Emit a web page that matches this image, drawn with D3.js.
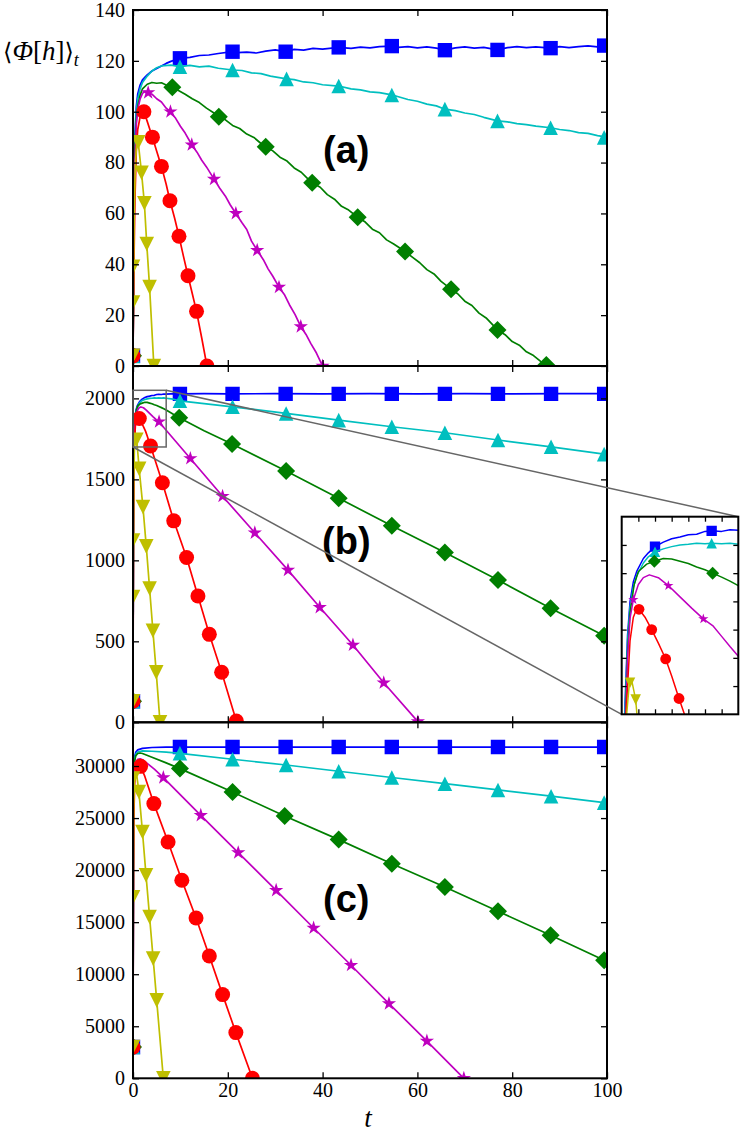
<!DOCTYPE html>
<html><head><meta charset="utf-8">
<script src="https://cdn.jsdelivr.net/npm/d3@7"></script>
<style>body{margin:0;background:#fff}svg{display:block}</style>
</head><body>
<svg id="chart" width="743" height="1132"></svg>
<script>
// ---------------- DATA ----------------
const tDomain = [0, 100];
const tTicks = [0, 20, 40, 60, 80, 100];
const aDomain = [0, 140];
const aTicks = [0, 20, 40, 60, 80, 100, 120, 140];
const bDomain = [0, 2200];
const bTicks = [0, 500, 1000, 1500, 2000];
const cDomain = [0, 34200];
const cTicks = [0, 5000, 10000, 15000, 20000, 25000, 30000];
const insetTDomain = [0, 7];
const insetTTicks = [1, 2, 3, 4, 5, 6];
const insetVDomain = [1700, 2050];
const insetVTicks = [1750, 1800, 1850, 1900, 1950, 2000];
const panelLabels = ["(a)", "(b)", "(c)"];

// panel (a)
const aBlueLine = [[0,4],[0.2,60],[0.4,90],[0.7,102],[1,107],[1.5,110.5],[2,112.5],[3,114.5],[4,116],[5,117],[6,118],[7,119],[8,119.8],[9.9,121],[12,121.4],[14,122.1],[16,122.3],[18,122.9],[21,123.6],[22,123.2],[24,123.4],[26,123.1],[28,123.8],[30,124.3],[32.2,123.6],[34,124.5],[36,124.2],[38,124.9],[40,124.6],[43.4,125.3],[46,124.9],[48,125.4],[50,125.1],[52,125.6],[54.6,125.8],[56,125.3],[58,125.6],[60,125.1],[62,125.5],[64,125.0],[65.8,124.2],[68,125.1],[70,125.5],[72,125.0],[74,125.3],[76.9,124.3],[79,125.2],[81,125.6],[83,125.2],[85,125.5],[88.1,125.0],[90,125.6],[92,125.2],[94,125.6],[96,125.9],[98,125.5],[100,126]];
const aBlueMarks = [[0,4],[9.9,121],[21,123.6],[32.2,123.6],[43.4,125.3],[54.6,125.8],[65.8,124.2],[76.9,124.3],[88.1,125],[99.4,126]];
const aCyanLine = [[0,4],[0.2,58],[0.4,88],[0.7,100],[1,105],[1.5,109],[2,111.5],[3,114],[4,116],[5,117.3],[6,118],[8,118.3],[9.9,117.7],[12,118.2],[14,117.6],[16,117.9],[18,117.1],[21,116.4],[23,116.2],[25,115.3],[27,115.0],[29,114.0],[32.4,112.9],[34,112.6],[36,111.7],[38,111.4],[40,110.6],[43.4,110.1],[46,109.0],[48,108.6],[50,107.8],[52,107.5],[54.6,106.6],[56,105.9],[58,104.8],[60,104.1],[62,103.0],[64,102.3],[65.8,101],[68,100.4],[70,99.5],[72,98.9],[74,97.8],[76.9,96.4],[79,96.0],[81,95.3],[83,94.9],[85,94.3],[88.1,93.7],[90,93.0],[92,92.6],[94,91.8],[96,91.5],[98,90.6],[100,90]];
const aCyanMarks = [[0,4],[9.9,117.7],[21,116.4],[32.4,112.9],[43.4,110.1],[54.6,106.6],[65.8,101],[76.9,96.4],[88.1,93.7],[99.4,89.9]];
const aGreenLine = [[0,4],[0.2,55],[0.4,85],[0.7,97],[1,102],[1.5,106.5],[2,109],[3,110.8],[4,111.5],[5,111.2],[6,111.4],[7,110.5],[8.3,109.6],[9.5,108.4],[11,106.9],[12.5,105.1],[14,103.6],[15.5,101.4],[17,99.6],[18.1,98],[19.5,96.8],[21,94.6],[22.5,93.4],[24,91.2],[25.5,89.9],[27,87.5],[28,86.2],[29.5,84.6],[31,82.1],[32.5,80.6],[34,77.9],[35.5,76.2],[37,73.4],[37.8,72.1],[39.5,70.3],[41,67.4],[42.5,65.6],[44,62.8],[45.5,61.3],[47.4,58.5],[49,56.6],[50.5,53.8],[52,52.4],[53.5,49.6],[55,48.0],[57.4,45],[59,42.7],[60.5,40.6],[62,37.9],[63.5,36.2],[65,33.3],[67.1,30.2],[68.5,28.4],[70,25.5],[71.5,23.8],[73,20.8],[74.5,18.9],[76.9,14.2],[78.5,12.3],[80,9.6],[81.5,8.2],[83,5.6],[84.5,4.1],[86,1.8],[87.3,0]];
const aGreenMarks = [[0,4],[8.3,109.6],[18.1,98],[28,86.2],[37.8,72.1],[47.4,58.5],[57.4,45],[67.1,30.2],[76.9,14.2],[87.2,0.4]];
const aMagentaLine = [[0,4],[0.2,50],[0.4,80],[0.7,95],[1,101],[1.5,105],[2,107.2],[2.5,108],[3.2,107.5],[4,106.9],[5,105.1],[6,103.8],[7,101.4],[7.9,100],[9,97.4],[10,94.3],[11,91.6],[12.4,87],[13.5,84.1],[14.5,80.9],[15.5,78.3],[17.1,73.5],[18.3,69.9],[19.5,66.8],[20.5,63.4],[21.7,60],[23,56.3],[24,53.7],[25,49.1],[26.2,45.5],[27.5,41.8],[28.5,38.2],[29.5,35.3],[30.8,31],[32,27.9],[33,24.1],[34.2,20.2],[35.4,15.5],[36.5,12.4],[37.5,8.9],[38.7,5.1],[40,0]];
const aMagentaMarks = [[0,4],[3.2,107.5],[7.9,100],[12.4,87],[17.1,73.5],[21.7,60],[26.2,45.5],[30.8,31],[35.4,15.5],[40,0]];
const aRedLine = [[0,4],[0.2,40],[0.4,65],[0.7,85],[1,93],[1.5,98],[2,99.8],[2.3,100],[3,96.2],[4.1,90],[5,84.5],[6,78.5],[7,71.5],[7.8,65],[8.8,58],[9.7,51],[10.6,43.5],[11.6,35.5],[12.5,28.5],[13.4,21.5],[14.5,11],[15.6,0]];
const aRedMarks = [[0,4],[2.3,100],[4.1,90],[6,78.5],[7.8,65],[9.7,51],[11.6,35.5],[13.4,21.5],[15.6,0]];
const aYellowLine = [[0,4],[0.1,30],[0.25,60],[0.5,80],[0.8,87.5],[1.1,88],[1.8,76],[2.4,64],[2.9,48],[3.5,31],[4.4,0]];
const aYellowMarks = [[0,4],[0,25],[0,39],[1.1,88],[1.8,76],[2.4,64],[2.9,48],[3.5,31],[4.4,0]];

// panel (b)
const bBlueLine = [[0,130],[0.1,1500],[0.2,1720],[0.35,1840],[0.5,1900],[0.7,1935],[0.9,1953],[1.3,1976],[1.6,1986],[2,1997],[2.5,2005],[3,2011],[3.5,2014],[4,2018],[4.5,2019],[5,2024],[5.4,2025],[6,2024],[6.5,2027],[7,2026],[8,2028],[10,2028],[15,2029],[20,2028],[30,2029],[40,2028],[50,2029],[60,2028],[70,2029],[80,2028],[90,2029],[100,2029]];
const bBlueMarks = [[0,130],[9.9,2028],[21,2028],[32.2,2028],[43.4,2028],[54.6,2028],[65.8,2028],[77,2028],[88.2,2028],[99.4,2028]];
const bCyanLine = [[0,130],[0.1,1480],[0.2,1700],[0.35,1830],[0.5,1890],[0.7,1925],[0.9,1945],[1.3,1968],[1.6,1979],[2,1988],[2.5,1993],[3,1997],[3.5,2000],[4,2001],[4.5,2003],[5,2002],[5.4,2003],[6,2002],[6.5,2003],[7,2001],[8.5,1995],[9.9,1985],[15,1968],[21,1948],[32.3,1907],[43.4,1866],[54.6,1825],[65.8,1788],[77,1743],[88.2,1701],[99.4,1656],[100,1654]];
const bCyanMarks = [[0,130],[9.9,1985],[21,1948],[32.3,1907],[43.4,1866],[54.6,1825],[65.8,1788],[77,1743],[88.2,1701],[99.4,1656]];
const bGreenLine = [[0,130],[0.1,1450],[0.2,1670],[0.35,1810],[0.5,1880],[0.75,1930],[1,1953],[1.5,1966],[1.96,1971],[2.5,1976],[3,1975],[3.5,1971],[4,1967],[4.5,1961],[5,1956],[5.46,1950],[6,1943],[6.5,1936],[7,1928],[8.5,1902],[9.75,1880],[15,1800],[20.9,1719],[32.3,1551],[43.4,1383],[54.6,1214],[65.8,1049],[77,878],[88.1,704],[99.4,535],[100,526]];
const bGreenMarks = [[0,130],[9.75,1880],[20.9,1719],[32.3,1551],[43.4,1383],[54.6,1214],[65.8,1049],[77,878],[88.1,704],[99.4,535]];
const bMagentaLine = [[0,130],[0.1,1400],[0.2,1640],[0.35,1800],[0.5,1870],[0.7,1903],[1,1930],[1.3,1942],[1.66,1947],[2.2,1942],[2.8,1928],[3.5,1908],[4.2,1888],[4.9,1869],[5.5,1856],[6,1838],[6.5,1820],[7,1803],[12.1,1629],[18.9,1396],[25.7,1170],[32.7,940],[39.4,710],[46.4,477],[52.9,244],[60.1,4],[60.2,0]];
const bMagentaMarks = [[0,130],[5.5,1856],[12.1,1629],[18.9,1396],[25.7,1170],[32.7,940],[39.4,710],[46.4,477],[52.9,244],[60.1,4]];
const bRedLine = [[0,130],[0.1,1200],[0.26,1700],[0.5,1830],[0.7,1872],[0.9,1887],[1.04,1886],[1.4,1872],[1.8,1850],[2.2,1826],[2.64,1798],[3,1768],[3.44,1728],[3.7,1706],[6.2,1479],[8.6,1244],[11.3,1018],[13.7,780],[16.1,543],[18.7,309],[21.8,8],[21.9,0]];
const bRedMarks = [[0,130],[1.33,1876],[3.7,1706],[6.2,1479],[8.6,1244],[11.3,1018],[13.7,780],[16.1,543],[18.7,309],[21.8,8]];
const bYellowLine = [[0,130],[0.05,900],[0.15,1450],[0.3,1700],[0.45,1752],[0.6,1760],[0.84,1726],[1.3,1565],[2.1,1329],[2.8,1086],[3.5,826],[4.2,565],[4.9,308],[5.7,0]];
const bYellowMarks = [[0,130],[0,774],[0,1123],[0.7,1745],[1.3,1565],[2.1,1329],[2.8,1086],[3.5,826],[4.2,565],[4.9,308],[5.7,0]];

// panel (c)
const cBlueLine = [[0,3000],[0.1,25000],[0.2,29500],[0.35,30900],[0.6,31350],[1,31550],[2,31700],[4,31780],[7,31810],[10,31820],[100,31820]];
const cBlueMarks = [[0,3000],[9.9,31820],[21,31820],[32.2,31820],[43.4,31820],[54.6,31820],[65.8,31820],[77,31820],[88.2,31820],[99.4,31820]];
const cCyanLine = [[0,3000],[0.1,24800],[0.2,29300],[0.35,30700],[0.6,31150],[1,31350],[2,31450],[4,31420],[7,31330],[9.9,31220],[21,30650],[32.3,30100],[43.4,29500],[54.6,28900],[65.8,28300],[77,27700],[88.2,27100],[99.4,26480],[100,26450]];
const cCyanMarks = [[0,3000],[9.9,31220],[21,30650],[32.3,30100],[43.4,29500],[54.6,28900],[65.8,28300],[77,27700],[88.2,27100],[99.4,26480]];
const cGreenLine = [[0,3000],[0.1,24500],[0.2,29000],[0.35,30500],[0.6,31000],[1,31200],[1.5,31250],[2,31200],[4,30850],[7,30300],[9.9,29750],[21,27500],[32,25200],[43.4,22930],[54.6,20620],[65.8,18380],[77,16040],[88.1,13740],[99.4,11340],[100,11210]];
const cGreenMarks = [[0,3000],[9.9,29750],[21,27500],[32,25200],[43.4,22930],[54.6,20620],[65.8,18380],[77,16040],[88.1,13740],[99.4,11340]];
const cMagentaLine = [[0,3000],[0.1,23000],[0.2,28000],[0.35,29900],[0.6,30400],[1,30650],[1.5,30700],[2,30600],[3,30250],[4.5,29700],[6.4,28890],[14.3,25260],[22.2,21680],[30.2,18060],[38.1,14440],[46,10860],[54,7180],[62,3580],[69.8,0]];
const cMagentaMarks = [[0,3000],[6.4,28890],[14.3,25260],[22.2,21680],[30.2,18060],[38.1,14440],[46,10860],[54,7180],[62,3580],[69.8,0]];
const cRedLine = [[0,3000],[0.1,20000],[0.2,25500],[0.35,28300],[0.6,29500],[1,29950],[1.6,29970],[2.5,29000],[4.4,26390],[7.4,22700],[10.3,19020],[13.3,15400],[16.1,11750],[18.9,8040],[21.7,4390],[25.2,0]];
const cRedMarks = [[0,3000],[1.6,29970],[4.4,26390],[7.4,22700],[10.3,19020],[13.3,15400],[16.1,11750],[18.9,8040],[21.7,4390],[25.2,0]];
const cYellowLine = [[0,3000],[0.05,17400],[0.15,26000],[0.3,28800],[0.55,29400],[0.85,28900],[1.25,27500],[2,23660],[2.75,19500],[3.5,15500],[4.25,11500],[5,7490],[6.4,0]];
const cYellowMarks = [[0,3000],[0,17400],[0,28800],[1.25,27500],[2,23660],[2.75,19500],[3.5,15500],[4.25,11500],[5,7490],[6.4,0]];

// inset (zoom of panel b)
const iBlueMarks = [[2,1997],[5.4,2025]];
const iCyanMarks = [[2,1988],[5.4,2003]];
const iGreenMarks = [[1.96,1971],[5.46,1950]];
const iMagentaMarks = [[0.7,1903],[2.8,1928],[4.9,1869]];
const iRedMarks = [[1.04,1886],[1.8,1850],[2.64,1798],[3.44,1728]];
const iYellowMarks = [[0.5,1756],[0.84,1726]];

// ---------------- STYLE / LAYOUT ----------------
const styles = [
  {color:"#0000ff", shape:"square"},
  {color:"#00bfbf", shape:"triUp"},
  {color:"#007f00", shape:"diamond"},
  {color:"#bf00bf", shape:"star"},
  {color:"#ff0000", shape:"circle"},
  {color:"#bfbf00", shape:"triDown"}
];
const SERIF = "Liberation Serif";
const svg = d3.select("#chart");
const X0 = 133, X1 = 607;
const x = d3.scaleLinear().domain(tDomain).range([X0, X1]);

function markerPath(shape, k) {
  if (shape === "square") { const s = 7.2*k; return `M${-s},${-s}H${s}V${s}H${-s}Z`; }
  if (shape === "triUp") { const s = 7.3*k; return `M0,${-s}L${s},${s}L${-s},${s}Z`; }
  if (shape === "triDown") { const s = 7.3*k; return `M0,${s}L${s},${-s}L${-s},${-s}Z`; }
  if (shape === "diamond") { const s = 9*k; return `M0,${-s}L${s},0L0,${s}L${-s},0Z`; }
  if (shape === "circle") { const r = 7.5*k; return `M${r},0A${r},${r} 0 1 1 ${-r},0A${r},${r} 0 1 1 ${r},0Z`; }
  if (shape === "star") {
    const R = 7.5*k, r = R*0.382; let p = "";
    for (let i = 0; i < 10; i++) {
      const a = -Math.PI/2 + i*Math.PI/5, rr = i%2 ? r : R;
      p += (i ? "L" : "M") + (rr*Math.cos(a)).toFixed(2) + "," + (rr*Math.sin(a)).toFixed(2);
    }
    return p + "Z";
  }
}

const panels = [
  {top:10, bottom:366, domain:aDomain, ticks:aTicks, label:panelLabels[0], labelAt:[45,80],
   lines:[aBlueLine,aCyanLine,aGreenLine,aMagentaLine,aRedLine,aYellowLine],
   marks:[aBlueMarks,aCyanMarks,aGreenMarks,aMagentaMarks,aRedMarks,aYellowMarks]},
  {top:366, bottom:722.3, domain:bDomain, ticks:bTicks, label:panelLabels[1], labelAt:[45,1040],
   lines:[bBlueLine,bCyanLine,bGreenLine,bMagentaLine,bRedLine,bYellowLine],
   marks:[bBlueMarks,bCyanMarks,bGreenMarks,bMagentaMarks,bRedMarks,bYellowMarks]},
  {top:722.3, bottom:1078.3, domain:cDomain, ticks:cTicks, label:panelLabels[2], labelAt:[45,16000],
   lines:[cBlueLine,cCyanLine,cGreenLine,cMagentaLine,cRedLine,cYellowLine],
   marks:[cBlueMarks,cCyanMarks,cGreenMarks,cMagentaMarks,cRedMarks,cYellowMarks], xLabels:true}
];

const defs = svg.append("defs");

function drawSeries(g, xs, ys, lines, marks, k, lw) {
  lines.forEach((ln, i) => {
    const st = styles[i];
    g.append("path").datum(ln)
      .attr("d", d3.line().x(d => xs(d[0])).y(d => ys(d[1])))
      .attr("fill", "none").attr("stroke", st.color).attr("stroke-width", lw)
      .attr("stroke-linejoin", "round");
    g.selectAll(null).data(marks[i]).join("path")
      .attr("d", markerPath(st.shape, k))
      .attr("transform", d => `translate(${xs(d[0])},${ys(d[1])})`)
      .attr("fill", st.color);
  });
}

function styleAxis(sel) {
  sel.attr("font-family", null).attr("font-size", null);
  sel.select(".domain").remove();
  sel.selectAll(".tick line").attr("stroke", "#000").attr("stroke-width", 1.3);
  sel.selectAll(".tick text").style("font-family", SERIF).style("font-size", "20px").attr("fill", "#000");
}

let bY = null;
panels.forEach((p, pi) => {
  const y = d3.scaleLinear().domain(p.domain).range([p.bottom, p.top]);
  if (pi === 1) bY = y;
  const cid = "clip" + pi;
  defs.append("clipPath").attr("id", cid).append("rect")
    .attr("x", X0).attr("y", p.top).attr("width", X1 - X0).attr("height", p.bottom - p.top);
  const g = svg.append("g").attr("clip-path", `url(#${cid})`);
  drawSeries(g, x, y, p.lines, p.marks, 1, 1.7);

  svg.append("text").attr("x", x(p.labelAt[0])).attr("y", y(p.labelAt[1]))
    .attr("text-anchor", "middle").style("font-family", "Liberation Sans")
    .style("font-weight", "bold").style("font-size", "38px").text(p.label);

  svg.append("g").attr("transform", `translate(${X0},0)`)
    .call(d3.axisLeft(y).tickValues(p.ticks).tickSize(-6).tickPadding(8).tickFormat(d3.format("d")))
    .call(styleAxis);
  svg.append("g").attr("transform", `translate(${X1},0)`)
    .call(d3.axisRight(y).tickValues(p.ticks).tickSize(-6).tickFormat(""))
    .call(styleAxis);
  svg.append("g").attr("transform", `translate(0,${p.bottom})`)
    .call(d3.axisBottom(x).tickValues(tTicks).tickSize(-6).tickPadding(5).tickFormat(p.xLabels ? d3.format("d") : ""))
    .call(styleAxis);
  svg.append("g").attr("transform", `translate(0,${p.top})`)
    .call(d3.axisTop(x).tickValues(tTicks).tickSize(-6).tickFormat(""))
    .call(styleAxis);

  svg.append("rect").attr("x", X0).attr("y", p.top).attr("width", X1 - X0).attr("height", p.bottom - p.top)
    .attr("fill", "none").attr("stroke", "#000").attr("stroke-width", 2);
});

// ---------------- INSET ----------------
const IX0 = 621.7, IX1 = 738.3, IY0 = 516.7, IY1 = 714.3;
const ix = d3.scaleLinear().domain(insetTDomain).range([IX0, IX1]);
const iy = d3.scaleLinear().domain(insetVDomain).range([IY1, IY0]);

const gray = "#666";
svg.append("rect").attr("x", x(insetTDomain[0])).attr("y", bY(insetVDomain[1]))
  .attr("width", x(insetTDomain[1]) - x(insetTDomain[0]))
  .attr("height", bY(insetVDomain[0]) - bY(insetVDomain[1]))
  .attr("fill", "none").attr("stroke", gray).attr("stroke-width", 1.5);
svg.append("line").attr("x1", x(insetTDomain[1])).attr("y1", bY(insetVDomain[1]))
  .attr("x2", IX1).attr("y2", IY0).attr("stroke", gray).attr("stroke-width", 1.5);
svg.append("line").attr("x1", x(insetTDomain[0])).attr("y1", bY(insetVDomain[0]))
  .attr("x2", IX0).attr("y2", IY1).attr("stroke", gray).attr("stroke-width", 1.5);

svg.append("rect").attr("x", IX0).attr("y", IY0).attr("width", IX1 - IX0).attr("height", IY1 - IY0).attr("fill", "#fff");
defs.append("clipPath").attr("id", "clipInset").append("rect")
  .attr("x", IX0).attr("y", IY0).attr("width", IX1 - IX0).attr("height", IY1 - IY0);
const gi = svg.append("g").attr("clip-path", "url(#clipInset)");
drawSeries(gi, ix, iy, panels[1].lines,
  [iBlueMarks, iCyanMarks, iGreenMarks, iMagentaMarks, iRedMarks, iYellowMarks], 0.72, 1.5);

svg.append("g").attr("transform", `translate(${IX0},0)`)
  .call(d3.axisLeft(iy).tickValues(insetVTicks).tickSize(-5).tickFormat("")).call(styleAxis);
svg.append("g").attr("transform", `translate(${IX1},0)`)
  .call(d3.axisRight(iy).tickValues(insetVTicks).tickSize(-5).tickFormat("")).call(styleAxis);
svg.append("g").attr("transform", `translate(0,${IY0})`)
  .call(d3.axisTop(ix).tickValues(insetTTicks).tickSize(-5).tickFormat("")).call(styleAxis);
svg.append("g").attr("transform", `translate(0,${IY1})`)
  .call(d3.axisBottom(ix).tickValues(insetTTicks).tickSize(-5).tickFormat("")).call(styleAxis);
svg.append("rect").attr("x", IX0).attr("y", IY0).attr("width", IX1 - IX0).attr("height", IY1 - IY0)
  .attr("fill", "none").attr("stroke", "#000").attr("stroke-width", 2);

// ---------------- AXIS TITLES ----------------
const yl = svg.append("text").attr("x", 3).attr("y", 60).style("font-family", SERIF).style("font-size", "27px");
yl.append("tspan").style("font-family", "DejaVu Serif").style("font-size", "24px").text("\u27E8");
yl.append("tspan").style("font-style", "italic").text("\u03A6");
yl.append("tspan").text("[");
yl.append("tspan").style("font-style", "italic").text("h");
yl.append("tspan").text("]");
yl.append("tspan").style("font-family", "DejaVu Serif").style("font-size", "24px").text("\u27E9");
yl.append("tspan").style("font-style", "italic").style("font-size", "18px").attr("dy", 6).text("t");

svg.append("text").attr("x", 368).attr("y", 1127).attr("text-anchor", "middle")
  .style("font-family", SERIF).style("font-style", "italic").style("font-size", "27px").text("t");
</script>
</body></html>
